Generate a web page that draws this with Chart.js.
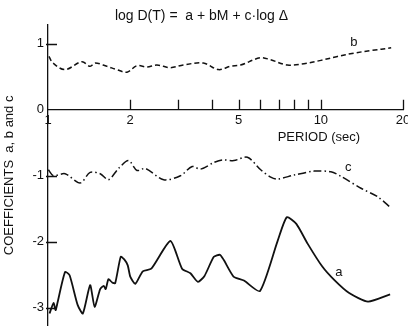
<!DOCTYPE html>
<html>
<head>
<meta charset="utf-8">
<script src="https://cdn.jsdelivr.net/npm/chart.js@4/dist/chart.umd.min.js"></script>
<style>
  html, body { margin: 0; padding: 0; background: #fff; }
  #wrap { width: 408px; height: 326px; }
</style>
</head>
<body>
<div id="wrap"><canvas id="chart"></canvas></div>
<script>
// regression coefficients vs. period (sec)
const periodA = [1.013, 1.048, 1.066, 1.079, 1.155, 1.20, 1.284, 1.342, 1.427, 1.482, 1.553,
  1.60, 1.627, 1.666, 1.719, 1.763, 1.847, 1.903, 1.960, 2.002, 2.089, 2.225, 2.391, 2.809,
  3.10, 3.327, 3.545, 3.746, 4.053, 4.27, 4.41, 4.786, 5.224, 5.98, 6.93, 7.50, 8.13, 8.94,
  10.09, 11.19, 12.7, 14.89, 17.94];
const coefA = [-3.09, -2.93, -3.04, -2.96, -2.46, -2.51, -2.96, -3.09, -2.66, -2.99, -2.72,
  -2.67, -2.72, -2.57, -2.62, -2.63, -2.23, -2.27, -2.36, -2.53, -2.64, -2.45, -2.41, -1.99,
  -2.41, -2.48, -2.61, -2.52, -2.23, -2.20, -2.28, -2.53, -2.59, -2.75, -2.00, -1.63, -1.73,
  -2.03, -2.37, -2.58, -2.78, -2.91, -2.80];

const periodB = [1.008, 1.043, 1.155, 1.33, 1.427, 1.489, 1.643, 1.788, 1.947, 2.118, 2.305,
  2.507, 2.807, 3.13, 3.71, 4.21, 4.66, 5.08, 6.0, 6.53, 7.54, 8.67, 10.0, 11.5, 13.2, 15.3, 18.1];
const coefB = [0.81, 0.71, 0.61, 0.73, 0.66, 0.71, 0.66, 0.61, 0.57, 0.67, 0.65,
  0.68, 0.64, 0.68, 0.71, 0.61, 0.66, 0.68, 0.79, 0.76, 0.68, 0.70, 0.75, 0.81, 0.86, 0.90, 0.94];

const periodC = [1.003, 1.046, 1.155, 1.311, 1.427, 1.553, 1.666, 1.813, 1.973, 2.119, 2.273,
  2.654, 3.057, 3.376, 3.622, 4.053, 4.35, 4.80, 5.38, 6.02, 6.55, 6.93, 7.98, 9.45, 10.88,
  11.85, 14.03, 16.16, 18.09];
const coefC = [-0.91, -1.00, -0.97, -1.11, -0.95, -0.97, -1.06, -0.89, -0.77, -0.92, -0.89,
  -1.06, -1.00, -0.86, -0.90, -0.80, -0.76, -0.77, -0.72, -0.91, -1.02, -1.05, -0.99, -0.93,
  -0.94, -1.01, -1.19, -1.32, -1.49];

const xTickValues = [1, 2, 3, 4, 5, 6, 7, 8, 9, 10, 20];
const xTickLabels = ['1', '2', '', '', '5', '', '', '', '', '10', '20'];
const yTickValues = [-3, -2, -1, 0, 1];

// curve names written next to each line
const curveNames = ['a', 'b', 'c'];
const namePeriods = [11.65, 13.2, 12.6];
const nameValues = [-2.46, 1.02, -0.88];

const INK = '#111';
const FONT = '"Liberation Sans", Arial, sans-serif';
Chart.defaults.font.family = FONT;
Chart.defaults.color = INK;

const toPoints = (xs, ys) => xs.map((x, i) => ({ x, y: ys[i] }));

// tick marks point into the plot, so they are drawn here instead of by the scales
const axisMarks = {
  id: 'axisMarks',
  afterDatasetsDraw(chart) {
    const { ctx, scales: { x, y } } = chart;
    const y0 = y.getPixelForValue(0);
    ctx.save();
    ctx.strokeStyle = INK;
    ctx.lineWidth = 1.3;
    ctx.beginPath();
    xTickValues.slice(1).forEach((v) => {
      const px = Math.round(x.getPixelForValue(v)) + 0.5;
      ctx.moveTo(px, y0);
      ctx.lineTo(px, y0 - 10);
    });
    yTickValues.filter((v) => v !== 0).forEach((v) => {
      const py = Math.round(y.getPixelForValue(v)) + 0.5;
      ctx.moveTo(x.left - 2, py);
      ctx.lineTo(x.left + 9, py);
    });
    ctx.stroke();

    ctx.fillStyle = INK;
    ctx.textAlign = 'center';
    ctx.textBaseline = 'middle';
    ctx.font = `13px ${FONT}`;
    curveNames.forEach((name, i) => {
      ctx.fillText(name, x.getPixelForValue(namePeriods[i]), y.getPixelForValue(nameValues[i]));
    });
    ctx.fillText('PERIOD (sec)', x.getPixelForValue(10) - 2, y0 + 28);
    ctx.restore();
  },
};

new Chart(document.getElementById('chart'), {
  type: 'line',
  data: {
    datasets: [
      {
        label: 'a',
        data: toPoints(periodA, coefA),
        borderColor: INK,
        borderWidth: 1.8,
        tension: 0.2,
      },
      {
        label: 'b',
        data: toPoints(periodB, coefB),
        borderColor: INK,
        borderWidth: 1.5,
        borderDash: [5, 3],
        tension: 0.35,
      },
      {
        label: 'c',
        data: toPoints(periodC, coefC),
        borderColor: INK,
        borderWidth: 1.5,
        borderDash: [8, 3, 1.5, 3],
        tension: 0.3,
      },
    ],
  },
  options: {
    responsive: true,
    maintainAspectRatio: false,
    animation: false,
    devicePixelRatio: 1,
    layout: { padding: { top: 0, right: 5, bottom: 0, left: 0 } },
    elements: { point: { radius: 0 } },
    plugins: {
      legend: { display: false },
      tooltip: { enabled: false },
      title: {
        display: true,
        text: 'log D(T) =  a + bM + c·log Δ',
        color: INK,
        font: { size: 14, weight: 'normal' },
        padding: { top: 8, bottom: 0 },
      },
    },
    scales: {
      x: {
        type: 'logarithmic',
        min: 1,
        max: 20,
        position: { y: 0 },
        grid: { display: false, drawTicks: false },
        border: { display: true, color: INK, width: 1.3 },
        afterBuildTicks: (scale) => {
          scale.ticks = xTickValues.map((value) => ({ value }));
        },
        afterFit: (scale) => {
          scale.paddingLeft = 0;
          scale.paddingRight = 0;
        },
        ticks: {
          autoSkip: false,
          maxRotation: 0,
          padding: 3,
          font: { size: 13 },
          callback: (v) => xTickLabels[xTickValues.indexOf(v)],
        },
      },
      y: {
        min: -3.28,
        max: 1.29,
        grid: { display: false, drawTicks: false },
        border: { display: true, color: INK, width: 1.3 },
        afterBuildTicks: (scale) => {
          scale.ticks = yTickValues.map((value) => ({ value }));
        },
        afterFit: (scale) => {
          scale.width = 48;
          scale.paddingTop = 0;
          scale.paddingBottom = 0;
        },
        ticks: {
          padding: 4,
          font: { size: 13 },
          callback: (v) => String(v),
        },
        title: {
          display: true,
          text: 'COEFFICIENTS  a, b and c',
          font: { size: 13 },
          padding: { top: 2, bottom: 0 },
        },
      },
    },
  },
  plugins: [axisMarks],
});
</script>
</body>
</html>
